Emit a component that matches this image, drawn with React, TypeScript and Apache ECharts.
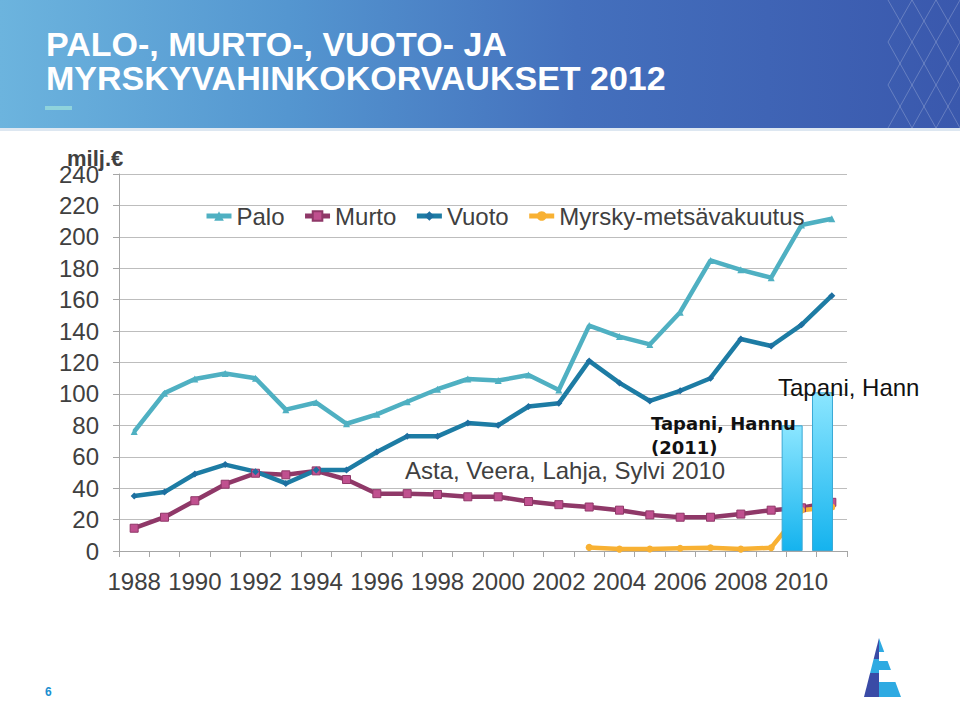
import React, { useEffect, useRef } from 'react';
import * as echarts from 'echarts';

const years = ['1988', '1989', '1990', '1991', '1992', '1993', '1994', '1995', '1996', '1997', '1998', '1999', '2000', '2001', '2002', '2003', '2004', '2005', '2006', '2007', '2008', '2009', '2010', '2011'];
const palo = [76, 100.5, 109.5, 113, 110, 90, 94.5, 81, 87, 95, 103, 109.5, 108.5, 112, 102.5, 143.5, 136.5, 131.5, 152, 185, 179, 174, 207.5, 211.5];
const murto = [14.5, 21.5, 32, 42.5, 49.5, 48.5, 51, 45.5, 36.5, 36.5, 36, 34.5, 34.5, 31.5, 29.5, 28, 26, 23, 21.5, 21.5, 23.5, 26, 27.5, 31];
const vuoto = [35, 37.5, 49, 55, 50.5, 43, 51.5, 51.5, 63, 73, 73, 81.5, 80, 92, 94, 121, 107, 95.5, 102, 110, 135, 130.5, 144, 162.5];
const myrsky = ['-', '-', '-', '-', '-', '-', '-', '-', '-', '-', '-', '-', '-', '-', '-', 2.3, 1.2, 1.3, 1.7, 2.1, 1.2, 2.1, 26, 28];
const myrskyt = ['-', '-', '-', '-', '-', '-', '-', '-', '-', '-', '-', '-', '-', '-', '-', '-', '-', '-', '-', '-', '-', '-', 80, 101];
const legendNames = ['Palo', 'Murto', 'Vuoto', 'Myrsky-metsävakuutus'];
const yTicks = { min: 0, max: 240, interval: 20 };

const FONT = '"Liberation Sans", Arial, sans-serif';
const TXT = '#404040';

function logoShapes() {
  const ax = 879, ay = 638, by = 697, bl = 864, br = 901;
  const xl = (y: number) => ax + (bl - ax) * (y - ay) / (by - ay);
  const xr = (y: number) => ax + (br - ax) * (y - ay) / (by - ay);
  const left: [number, number, string][] = [[638, 659, '#3a4ba6'], [659, 673, '#2eaae2'], [673, 697, '#3a4ba6']];
  const right: [number, number, string][] = [[638, 652, '#2eaae2'], [652, 661, '#ffffff'], [661, 670, '#2eaae2'], [670, 682, '#ffffff'], [682, 697, '#2eaae2']];
  const out: any[] = [];
  left.forEach(([y1, y2, c]) => out.push({ type: 'polygon', shape: { points: [[xl(y1), y1], [ax, y1], [ax, y2], [xl(y2), y2]] }, style: { fill: c } }));
  right.forEach(([y1, y2, c]) => out.push({ type: 'polygon', shape: { points: [[ax, y1], [xr(y1), y1], [xr(y2), y2], [ax, y2]] }, style: { fill: c } }));
  return out;
}

export default function App() {
  const ref = useRef<HTMLDivElement>(null);
  useEffect(() => {
    const chart = echarts.init(ref.current!, null, { renderer: 'svg' });
    const barGrad = new echarts.graphic.LinearGradient(0, 0, 0, 1, [
      { offset: 0, color: '#8be6ff' },
      { offset: 1, color: '#15b3ee' },
    ]);
    const lattice = { stroke: 'rgba(255,255,255,0.22)', lineWidth: 1, fill: null };
    chart.setOption({
      animation: false,
      backgroundColor: '#ffffff',
      textStyle: { fontFamily: FONT },
      grid: { left: 119, right: 113, top: 174, bottom: 151, containLabel: false },
      legend: {
        data: legendNames,
        left: 199,
        top: 199,
        itemGap: 18,
        itemWidth: 25,
        itemHeight: 12,
        lineStyle: { width: 5 },
        textStyle: { fontSize: 24, color: TXT, fontFamily: FONT },
      },
      xAxis: {
        type: 'category',
        data: years,
        boundaryGap: true,
        axisLine: { lineStyle: { color: '#a6a6a6', width: 1 } },
        axisTick: { show: true, interval: 0, length: 6, lineStyle: { color: '#a6a6a6' } },
        axisLabel: { interval: 1, fontSize: 24, color: TXT, margin: 18, fontFamily: FONT },
      },
      yAxis: {
        type: 'value',
        min: yTicks.min,
        max: yTicks.max,
        interval: yTicks.interval,
        axisLine: { show: true, lineStyle: { color: '#a6a6a6', width: 1 } },
        axisTick: { show: true, length: 6, lineStyle: { color: '#a6a6a6' } },
        axisLabel: { fontSize: 24, color: TXT, margin: 20, fontFamily: FONT },
        splitLine: { lineStyle: { color: '#bdbdbd', width: 1 } },
      },
      series: [
        {
          name: 'Palo', type: 'line', data: palo, symbol: 'triangle', symbolSize: 7,
          lineStyle: { width: 4.5, color: '#4fb0c2' }, itemStyle: { color: '#4fb0c2' }, z: 2,
        },
        {
          name: 'Murto', type: 'line', data: murto, symbol: 'rect', symbolSize: 8,
          lineStyle: { width: 4.5, color: '#8f3868' }, itemStyle: { color: '#c0508f', borderColor: '#8f3868', borderWidth: 1 }, z: 2,
        },
        {
          name: 'Vuoto', type: 'line', data: vuoto, symbol: 'diamond', symbolSize: 7,
          lineStyle: { width: 4.5, color: '#1d7ca4' }, itemStyle: { color: '#1d6fa0' }, z: 2,
        },
        {
          name: 'Myrsky-metsävakuutus', type: 'line', data: myrsky, symbol: 'circle', symbolSize: 7,
          lineStyle: { width: 4.5, color: '#f8b133' }, itemStyle: { color: '#f8b133' }, z: 2,
        },
        {
          name: 'Myrskyt', type: 'bar', data: myrskyt, barWidth: 21, barGap: '-11%',
          itemStyle: { color: barGrad, borderColor: '#3aa9d6', borderWidth: 1 }, z: 3,
        },
        {
          name: 'spacer', type: 'bar', data: myrskyt.map(() => '-'), barWidth: 21, barGap: '-11%', silent: true,
        },
      ],
      graphic: [
        {
          type: 'rect', z: 0, shape: { x: 0, y: 0, width: 960, height: 128 },
          style: {
            fill: new echarts.graphic.LinearGradient(0, 0, 1, 0, [
              { offset: 0, color: '#6cb4de' },
              { offset: 0.3, color: '#5496d0' },
              { offset: 0.6, color: '#4470bd' },
              { offset: 1, color: '#3a58ad' },
            ]),
          },
        },
        { type: 'rect', z: 0, shape: { x: 0, y: 128, width: 960, height: 3 }, style: { fill: '#dde7f1' } },
        { type: 'polyline', z: 1, shape: { points: [[888, 0], [912, 42], [888, 85], [912, 128]] }, style: lattice },
        { type: 'polyline', z: 1, shape: { points: [[912, 0], [888, 42], [912, 85], [888, 128]] }, style: lattice },
        { type: 'polyline', z: 1, shape: { points: [[912, 0], [936, 42], [912, 85], [936, 128]] }, style: lattice },
        { type: 'polyline', z: 1, shape: { points: [[936, 0], [912, 42], [936, 85], [912, 128]] }, style: lattice },
        { type: 'polyline', z: 1, shape: { points: [[936, 0], [960, 42], [936, 85], [960, 128]] }, style: lattice },
        { type: 'polyline', z: 1, shape: { points: [[960, 0], [936, 42], [960, 85], [936, 128]] }, style: lattice },
        {
          type: 'text', z: 2, x: 46, y: 27,
          style: {
            text: 'PALO-, MURTO-, VUOTO- JA\nMYRSKYVAHINKOKORVAUKSET 2012',
            font: `bold 34px ${FONT}`, lineHeight: 34, fill: '#ffffff', verticalAlign: 'top',
          },
        },
        { type: 'rect', z: 2, shape: { x: 45, y: 106, width: 27, height: 4 }, style: { fill: '#8fd3dc' } },
        {
          type: 'text', z: 100, x: 67, y: 158,
          style: { text: 'milj.€', font: `bold 22px ${FONT}`, fill: TXT, verticalAlign: 'middle' },
        },
        {
          type: 'text', z: 100, x: 405, y: 470,
          style: { text: 'Asta, Veera, Lahja, Sylvi 2010', font: `24px ${FONT}`, fill: TXT, verticalAlign: 'middle' },
        },
        {
          type: 'text', z: 100, x: 651, y: 411,
          style: { text: 'Tapani, Hannu\n(2011)', font: 'bold 18px "DejaVu Sans", Verdana, sans-serif', lineHeight: 24, fill: '#111111', verticalAlign: 'top' },
        },
        {
          type: 'text', z: 100, x: 778, y: 387,
          style: { text: 'Tapani, Hann', font: `24px ${FONT}`, fill: '#111111', verticalAlign: 'middle' },
        },
        {
          type: 'text', z: 100, x: 45, y: 692,
          style: { text: '6', font: `bold 12px ${FONT}`, fill: '#1a8fd0', verticalAlign: 'middle' },
        },
        { type: 'group', z: 100, children: logoShapes() },
      ],
    });
    return () => chart.dispose();
  }, []);
  return <div ref={ref} style={{ position: 'absolute', left: 0, top: 0, width: 960, height: 702, background: '#fff' }} />;
}
